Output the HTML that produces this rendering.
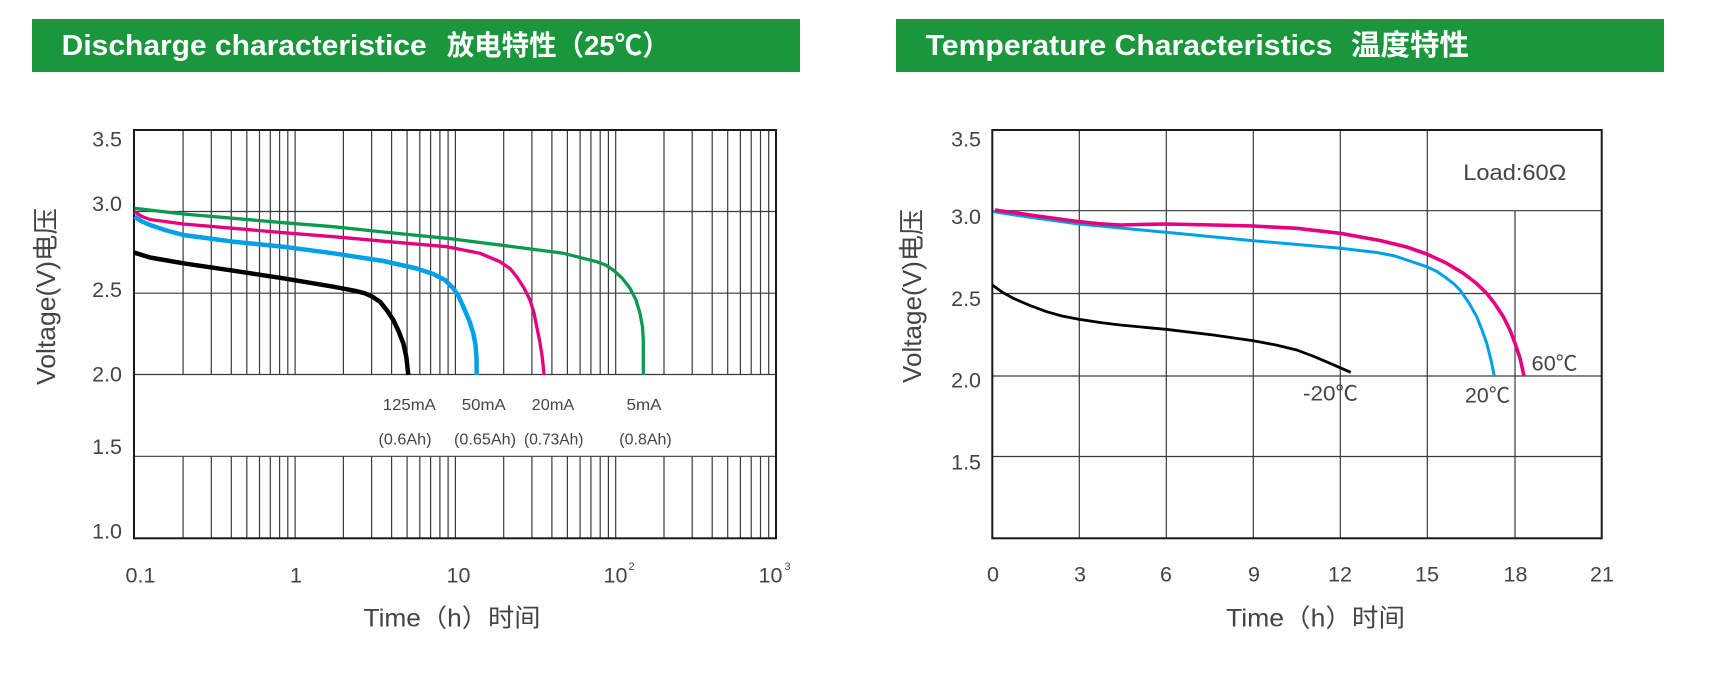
<!DOCTYPE html>
<html>
<head>
<meta charset="utf-8">
<style>
html,body{margin:0;padding:0;background:#fff;}
body{width:1730px;height:677px;overflow:hidden;}
svg{display:block;}
.t{font-family:"Liberation Sans","Noto Sans CJK SC",sans-serif;fill:#444;}
.h{font-family:"Liberation Sans","Noto Sans CJK SC",sans-serif;fill:#fff;font-weight:bold;}
</style>
</head>
<body>
<svg width="1730" height="677" viewBox="0 0 1730 677" xmlns="http://www.w3.org/2000/svg">
<rect x="0" y="0" width="1730" height="677" fill="#fff"/>

<!-- Title bars -->
<rect x="32" y="19" width="768" height="53" fill="#1a963c"/>
<rect x="896" y="19" width="768" height="53" fill="#1a963c"/>
<text class="h" x="61.7" y="55" font-size="29" textLength="365" lengthAdjust="spacingAndGlyphs">Discharge characteristice</text>
<text class="h" x="446.7" y="55" font-size="28" textLength="223" lengthAdjust="spacingAndGlyphs">放电特性（25℃）</text>
<text class="h" x="925.6" y="55" font-size="29" textLength="407" lengthAdjust="spacingAndGlyphs">Temperature Characteristics</text>
<text class="h" x="1351" y="55" font-size="29" textLength="118" lengthAdjust="spacingAndGlyphs">温度特性</text>

<!-- LEFT CHART GRID -->
<g stroke="#3a3a3a" stroke-width="1.2" fill="none">
<path d="
M183.1 130V374.5M183.1 456.3V538.3
M211.3 130V374.5M211.3 456.3V538.3
M231.3 130V374.5M231.3 456.3V538.3
M246.8 130V374.5M246.8 456.3V538.3
M259.5 130V374.5M259.5 456.3V538.3
M270.3 130V374.5M270.3 456.3V538.3
M279.6 130V374.5M279.6 456.3V538.3
M287.8 130V374.5M287.8 456.3V538.3
M295.1 130V374.5M295.1 456.3V538.3
M343.4 130V374.5M343.4 456.3V538.3
M371.6 130V374.5M371.6 456.3V538.3
M391.6 130V374.5M391.6 456.3V538.3
M407.1 130V374.5M407.1 456.3V538.3
M419.8 130V374.5M419.8 456.3V538.3
M430.6 130V374.5M430.6 456.3V538.3
M439.9 130V374.5M439.9 456.3V538.3
M448.1 130V374.5M448.1 456.3V538.3
M455.4 130V374.5M455.4 456.3V538.3
M503.7 130V374.5M503.7 456.3V538.3
M531.9 130V374.5M531.9 456.3V538.3
M551.9 130V374.5M551.9 456.3V538.3
M567.4 130V374.5M567.4 456.3V538.3
M580.1 130V374.5M580.1 456.3V538.3
M590.9 130V374.5M590.9 456.3V538.3
M600.2 130V374.5M600.2 456.3V538.3
M608.4 130V374.5M608.4 456.3V538.3
M615.7 130V374.5M615.7 456.3V538.3
M664.0 130V374.5M664.0 456.3V538.3
M692.2 130V374.5M692.2 456.3V538.3
M712.2 130V374.5M712.2 456.3V538.3
M727.7 130V374.5M727.7 456.3V538.3
M740.4 130V374.5M740.4 456.3V538.3
M751.2 130V374.5M751.2 456.3V538.3
M760.5 130V374.5M760.5 456.3V538.3
M768.7 130V374.5M768.7 456.3V538.3
M134 211.5H776M134 293.2H776M134 374.5H776M134 456.3H776
"/>
</g>
<rect x="134" y="130" width="642" height="408.3" fill="none" stroke="#1a1a1a" stroke-width="2"/>

<!-- LEFT CURVES -->
<g fill="none" stroke-linejoin="round" stroke-linecap="butt">
<polyline stroke="#0c9a50" stroke-width="3.3" points="134.5,208.3 183.3,214 233.3,218.3 283.3,222.7 333.3,226.7 383.3,232 446.7,238.3 513.3,246.7 563.3,253.3 596.7,261.7 606,265.2 613.3,270 622,278 630,288.3 636,300 640,313.3 642.5,327 643.3,340 643.3,375"/>
<polyline stroke="#e4007f" stroke-width="3.3" points="134.5,211.7 142,216.5 150,219.5 183.3,224 233.3,228.3 283.3,232.7 333.3,236.7 383.3,241.2 446.7,246.7 480,253.3 500,261.7 510,268.5 516.7,276.7 524,288 530,300 534,313 536.7,326.7 539.5,340 541.7,353.3 543,364 544,375"/>
<polyline stroke="#00a0e9" stroke-width="4.5" points="134.5,216.7 142,221.5 150,225 165,230 183.3,235 233.3,241.7 283.3,246.7 333.3,253.3 383.3,261 416.7,268.5 433.3,274 445,280 453,288 458.5,296 463.3,306.7 469,320 473.3,333.3 475.5,345 476.5,358 476.7,375"/>
<polyline stroke="#000" stroke-width="4.5" points="134.5,252.7 150,257.5 183.3,263.3 233.3,270.7 283.3,278.3 333.3,286.7 355,290.8 365,293.3 372,296.5 380,301.7 387,310.5 393.3,320 398.5,331 403.3,343.3 406.3,357 408.3,375"/>
</g>

<!-- LEFT LABELS -->
<g class="t" font-size="21.5" text-anchor="end">
<text x="122" y="146.4">3.5</text>
<text x="122" y="211">3.0</text>
<text x="122" y="297">2.5</text>
<text x="122" y="381.5">2.0</text>
<text x="122" y="454">1.5</text>
<text x="122" y="538.5">1.0</text>
</g>
<g class="t" font-size="21.5" text-anchor="middle">
<text x="140.5" y="582.5">0.1</text>
<text x="296" y="582.5">1</text>
<text x="458.5" y="582.5">10</text>
<text x="615.5" y="582.5">10</text>
<text x="770.5" y="582.5">10</text>
</g>
<g class="t" font-size="11">
<text x="628.5" y="570">2</text>
<text x="784.5" y="570">3</text>
</g>
<g class="t" font-size="15.5" text-anchor="middle">
<text x="409.3" y="410" textLength="53" lengthAdjust="spacingAndGlyphs">125mA</text>
<text x="405" y="444.3" textLength="53" lengthAdjust="spacingAndGlyphs">(0.6Ah)</text>
<text x="483.8" y="410" textLength="44" lengthAdjust="spacingAndGlyphs">50mA</text>
<text x="485" y="444.3" textLength="62" lengthAdjust="spacingAndGlyphs">(0.65Ah)</text>
<text x="553" y="410" textLength="42.6" lengthAdjust="spacingAndGlyphs">20mA</text>
<text x="553.7" y="444.3" textLength="59.3" lengthAdjust="spacingAndGlyphs">(0.73Ah)</text>
<text x="644" y="410" textLength="35" lengthAdjust="spacingAndGlyphs">5mA</text>
<text x="645.5" y="444.3" textLength="52.4" lengthAdjust="spacingAndGlyphs">(0.8Ah)</text>
</g>
<text class="t" x="363.5" y="626.7" font-size="25" textLength="177" lengthAdjust="spacingAndGlyphs">Time（h）时间</text>
<text class="t" transform="translate(55,296.5) rotate(-90)" font-size="26" text-anchor="middle" textLength="177" lengthAdjust="spacingAndGlyphs">Voltage(V)电压</text>

<!-- RIGHT CHART GRID -->
<g stroke="#3a3a3a" stroke-width="1.2" fill="none">
<path d="
M1079.3 130V538.3M1166.3 130V538.3M1253.3 130V538.3M1340.3 130V538.3M1427.3 130V538.3
M1515 210.7V538.3
M992.3 210.7H1601.7M992.3 293.5H1601.7M992.3 376H1601.7M992.3 456.5H1601.7
"/>
</g>
<rect x="992.3" y="130" width="609.4" height="408.3" fill="none" stroke="#1a1a1a" stroke-width="2"/>

<!-- RIGHT CURVES -->
<g fill="none" stroke-linejoin="round">
<polyline stroke="#000" stroke-width="2.8" points="992.3,285 1002,292 1013.3,298.3 1030,305.5 1046.7,311.7 1062,316 1078.7,319.3 1100,322.5 1120,325 1165.7,329.3 1213.3,335 1253.3,340.7 1276,345 1296.7,350 1314,356.5 1330,363.3 1350.7,372.3"/>
<polyline stroke="#00a0e9" stroke-width="3" points="993.3,211.7 1030,217.3 1078.7,224 1165.7,232.3 1253.3,240.7 1340.3,248.3 1376.7,252.5 1395,256 1406.7,260 1426.7,266.7 1437,271.5 1446.7,278.3 1454,284 1460,290 1469,303 1476.7,316.7 1482,330 1486.7,343.3 1491,360 1494.3,376"/>
<polyline stroke="#e4007f" stroke-width="3.6" points="995,210 1030,215 1078.7,221.7 1100,223.8 1120,225 1140,224.5 1165.7,224 1213.3,225 1253.3,226 1296.7,228.3 1340.3,233.3 1380,240.5 1406.7,247 1426.7,254 1446.7,263.3 1463.3,273.3 1476,283 1486.7,293.3 1495,304 1503.3,316.7 1510,330 1515,343.3 1520,358 1524,376"/>
</g>

<!-- RIGHT LABELS -->
<g class="t" font-size="21.5" text-anchor="end">
<text x="981" y="146.4">3.5</text>
<text x="981" y="224">3.0</text>
<text x="981" y="305.8">2.5</text>
<text x="981" y="387.6">2.0</text>
<text x="981" y="469.4">1.5</text>
</g>
<g class="t" font-size="21.5" text-anchor="middle">
<text x="993" y="581.5">0</text>
<text x="1080" y="581.5">3</text>
<text x="1166" y="581.5">6</text>
<text x="1254" y="581.5">9</text>
<text x="1340" y="581.5">12</text>
<text x="1427" y="581.5">15</text>
<text x="1515.5" y="581.5">18</text>
<text x="1602" y="581.5">21</text>
</g>
<text class="t" x="1463.3" y="180" font-size="22.5" textLength="103" lengthAdjust="spacingAndGlyphs">Load:60Ω</text>
<text class="t" x="1531.7" y="370.7" font-size="21" textLength="45.6" lengthAdjust="spacingAndGlyphs">60℃</text>
<text class="t" x="1465" y="402.7" font-size="21" textLength="45" lengthAdjust="spacingAndGlyphs">20℃</text>
<text class="t" x="1303" y="400.5" font-size="21" textLength="55" lengthAdjust="spacingAndGlyphs">-20℃</text>
<text class="t" x="1226" y="626.7" font-size="25" textLength="179" lengthAdjust="spacingAndGlyphs">Time（h）时间</text>
<text class="t" transform="translate(921,296) rotate(-90)" font-size="26" text-anchor="middle" textLength="174" lengthAdjust="spacingAndGlyphs">Voltage(V)电压</text>
</svg>
</body>
</html>
